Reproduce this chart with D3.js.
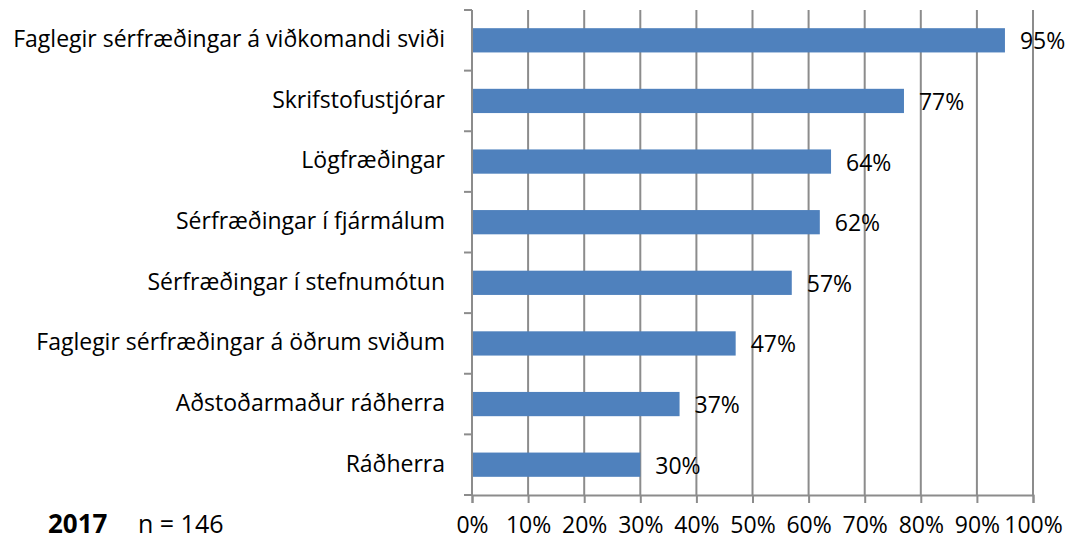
<!DOCTYPE html>
<html>
<head>
<meta charset="utf-8">
<script src="https://cdn.jsdelivr.net/npm/d3@7"></script>
<style>
  body { margin: 0; background: #fff; }
  text { font-family: "Open Sans", sans-serif; fill: #000; }
</style>
</head>
<body>
<div id="chart"></div>
<script>
// chart data
const categories = [
    "Faglegir sérfræðingar á viðkomandi sviði",
    "Skrifstofustjórar",
    "Lögfræðingar",
    "Sérfræðingar í fjármálum",
    "Sérfræðingar í stefnumótun",
    "Faglegir sérfræðingar á öðrum sviðum",
    "Aðstoðarmaður ráðherra",
    "Ráðherra"
];
const values = [95, 77, 64, 62, 57, 47, 37, 30];
const tickValues = [0, 10, 20, 30, 40, 50, 60, 70, 80, 90, 100];
const yearLabel = "2017";
const sampleLabel = "n = 146";

const width = 1068, height = 541;
const margin = {top: 10, right: 35, bottom: 46, left: 472};
const innerW = width - margin.left - margin.right;
const innerH = height - margin.top - margin.bottom;

const svg = d3.select("#chart")
    .append("svg")
    .attr("width", width)
    .attr("height", height);

const g = svg.append("g")
    .attr("transform", `translate(${margin.left},${margin.top})`);

const x = d3.scaleLinear().domain([0, 100]).range([0, innerW]);
const y = d3.scaleBand().domain(categories).range([0, innerH]).paddingInner(0.6).paddingOuter(0.3);

const gridColor = "#8c8c8c";

// vertical gridlines
g.selectAll(".grid")
    .data(tickValues.slice(1))
    .enter()
    .append("line")
    .attr("class", "grid")
    .attr("x1", d => x(d)).attr("x2", d => x(d))
    .attr("y1", 0).attr("y2", innerH)
    .attr("stroke", gridColor)
    .attr("stroke-width", 2);

// bars
g.selectAll(".bar")
    .data(values)
    .enter()
    .append("rect")
    .attr("class", "bar")
    .attr("x", 0)
    .attr("y", (d, i) => y(categories[i]))
    .attr("width", d => x(d))
    .attr("height", y.bandwidth())
    .attr("fill", "#4f81bd");

// value labels
g.selectAll(".val")
    .data(values)
    .enter()
    .append("text")
    .attr("class", "val")
    .attr("x", d => x(d) + 15)
    .attr("y", (d, i) => y(categories[i]) + y.bandwidth() / 2 + 9)
    .style("font-size", "23px")
    .text(d => d + "%");

// x axis
const xAxis = d3.axisBottom(x)
    .tickValues(tickValues)
    .tickFormat(d => d + "%")
    .tickSize(8)
    .tickPadding(14);

const xg = g.append("g")
    .attr("transform", `translate(0,${innerH})`)
    .call(xAxis);
xg.select(".domain").attr("stroke", gridColor).attr("stroke-width", 2);
xg.selectAll(".tick line").attr("stroke", gridColor).attr("stroke-width", 2);
xg.selectAll(".tick text")
    .style("font-size", "23px")
    .style("font-family", "'Open Sans', sans-serif");

// y axis: boundaries between categories
const step = innerH / categories.length;
g.append("line")
    .attr("x1", 0).attr("x2", 0)
    .attr("y1", 0).attr("y2", innerH)
    .attr("stroke", gridColor)
    .attr("stroke-width", 2);

g.selectAll(".ytick")
    .data(d3.range(categories.length + 1))
    .enter()
    .append("line")
    .attr("class", "ytick")
    .attr("x1", -8).attr("x2", 0)
    .attr("y1", d => d * step).attr("y2", d => d * step)
    .attr("stroke", gridColor)
    .attr("stroke-width", 2);

// category labels
g.selectAll(".cat")
    .data(categories)
    .enter()
    .append("text")
    .attr("class", "cat")
    .attr("x", -27)
    .attr("y", d => y(d) + y.bandwidth() / 2)
    .attr("dy", "0.3em")
    .attr("text-anchor", "end")
    .style("font-size", "23px")
    .text(d => d);

// footer
svg.append("text")
    .attr("x", 48).attr("y", 533)
    .style("font-size", "26px")
    .style("font-weight", "bold")
    .text(yearLabel);

svg.append("text")
    .attr("x", 138).attr("y", 533)
    .style("font-size", "25px")
    .text(sampleLabel);
</script>
</body>
</html>
